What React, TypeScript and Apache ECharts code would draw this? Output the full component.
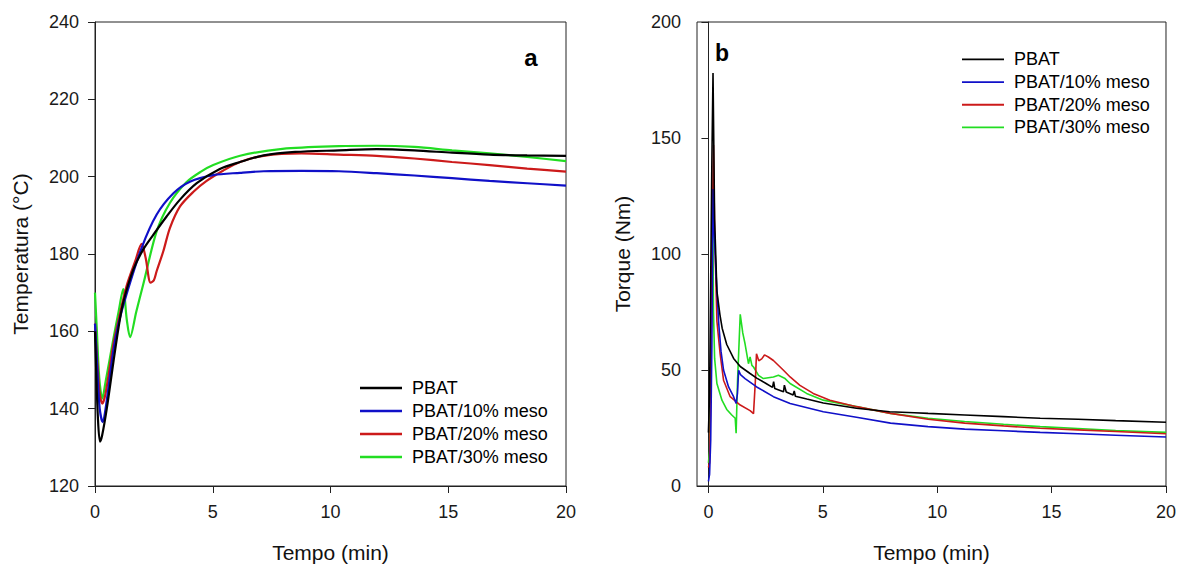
import React, { useEffect, useRef } from "react";
import * as echarts from "echarts";

// ---------- Data: (a) Temperatura (°C) vs Tempo (min) ----------
const seriesNames = ["PBAT", "PBAT/10% meso", "PBAT/20% meso", "PBAT/30% meso"];
const seriesColors = ["#000000", "#1010c8", "#cc1a1a", "#22dd22"];

const tempTimePBAT = [0, 0.05, 0.12, 0.21, 0.3, 0.5, 0.78, 1.0, 1.2, 1.63, 2.05, 2.48, 3.04, 3.6, 4.32, 5.3, 6.16, 7.16, 8.5, 10.36, 11.96, 13.56, 15.16, 16.75, 18.35, 20];
const tempPBAT = [160, 150, 138, 131.5, 133, 140, 152, 161, 167.5, 176, 181.2, 185, 189.7, 194, 198.3, 202, 203.8, 205.5, 206.4, 206.8, 207.1, 206.8, 206.2, 205.7, 205.5, 205.4];

const tempTime10 = [0, 0.1, 0.2, 0.33, 0.45, 0.78, 1.0, 1.34, 1.98, 2.62, 3.33, 4.03, 5.02, 6.16, 7.16, 8.76, 10.36, 11.96, 13.56, 15.16, 16.75, 18.35, 20];
const temp10 = [162, 150, 140, 136.5, 140, 155, 162, 169.6, 181.6, 190.2, 195.7, 198.7, 200.4, 201.0, 201.4, 201.5, 201.4, 200.9, 200.3, 199.6, 198.9, 198.3, 197.7];

const tempTime20 = [0, 0.1, 0.2, 0.31, 0.45, 0.78, 1.0, 1.34, 1.7, 1.98, 2.15, 2.36, 2.5, 2.62, 2.9, 3.18, 3.61, 4.18, 4.74, 5.45, 6.16, 7.16, 8.76, 10.36, 11.96, 13.56, 15.16, 16.75, 18.35, 20];
const temp20 = [162, 152, 144, 141.3, 144, 156.7, 163, 171.7, 178, 182.6, 179, 172.6, 173.2, 175.6, 180.7, 186.7, 192.3, 196.1, 198.9, 201.6, 203.8, 205.4, 206.0, 205.7, 205.4, 204.7, 203.8, 203.0, 202.1, 201.3];

const tempTime30 = [0, 0.08, 0.18, 0.31, 0.45, 0.78, 1.0, 1.2, 1.35, 1.49, 1.75, 2.05, 2.62, 3.18, 3.89, 4.5, 5.02, 6.16, 7.96, 10.36, 11.96, 13.56, 15.16, 16.75, 18.35, 20];
const temp30 = [170, 160, 148, 142.6, 147, 158, 165, 170.9, 163, 158.5, 165, 172.2, 185.9, 193.2, 198.6, 201.3, 203.0, 205.4, 207.2, 207.9, 208.0, 207.7, 206.8, 206.0, 205.1, 204.0];

// ---------- Data: (b) Torque (Nm) vs Tempo (min) ----------
const torqTimePBAT = [0, 0.05, 0.1, 0.15, 0.2, 0.27, 0.37, 0.5, 0.6, 0.8, 1.1, 1.39, 1.82, 2.11, 2.5, 2.8, 2.85, 2.9, 3.28, 3.32, 3.4, 3.7, 3.75, 3.8, 4.3, 5.02, 6.47, 7.92, 9.0, 9.6, 11.2, 12.9, 14.5, 16.15, 17.8, 20];
const torqPBAT = [23, 40, 90, 140, 178, 115, 84, 74, 68, 61, 55, 51.5, 48.5, 46.5, 44.3, 42.5, 45, 42, 40.6, 43.5, 40.5, 39.2, 41, 38.7, 37.5, 35.8, 33.5, 32, 31.6, 31.3, 30.6, 29.9, 29.2, 28.8, 28.2, 27.5];

const torqTime10 = [0, 0.05, 0.1, 0.15, 0.2, 0.25, 0.33, 0.45, 0.55, 0.66, 0.88, 1.1, 1.21, 1.27, 1.32, 1.4, 1.6, 2.11, 2.84, 3.57, 5.02, 6.47, 7.96, 9.6, 11.2, 12.9, 14.5, 16.15, 17.8, 20];
const torq10 = [2, 5, 20, 60, 128, 110, 92, 70, 58, 50, 42.7, 38.5, 35.6, 40, 49.9, 48, 46.3, 42.7, 38.5, 35.6, 32, 29.6, 27.1, 25.6, 24.5, 23.8, 23.1, 22.5, 21.9, 21.1];

const torqTime20 = [0, 0.05, 0.1, 0.15, 0.22, 0.27, 0.37, 0.51, 0.66, 0.95, 1.39, 1.82, 1.97, 2.05, 2.1, 2.2, 2.33, 2.45, 2.62, 2.84, 3.28, 3.57, 4.0, 4.58, 5.31, 6.47, 7.96, 9.6, 11.2, 12.9, 14.5, 16.15, 17.8, 20];
const torq20 = [8, 10, 40, 100, 147, 110, 71, 57, 45.6, 38.5, 34.9, 32.5, 31.2, 45, 57, 54, 54.8, 56.5, 55.6, 54.1, 49.9, 47, 43.4, 39.9, 37, 34.2, 31.3, 28.8, 27.1, 25.9, 24.9, 24.2, 23.5, 22.5];

const torqTime30 = [0, 0.05, 0.1, 0.15, 0.19, 0.22, 0.27, 0.37, 0.59, 0.8, 1.02, 1.17, 1.21, 1.27, 1.39, 1.5, 1.6, 1.75, 1.82, 1.9, 1.97, 2.19, 2.4, 2.84, 3.06, 3.35, 3.57, 4.29, 5.02, 6.47, 7.96, 9.6, 11.2, 12.9, 14.5, 16.15, 17.8, 20];
const torq30 = [10, 15, 50, 90, 120, 75, 55, 44.2, 37, 33, 30.6, 29.2, 22.8, 45, 74, 66, 61.3, 52.7, 55.6, 52, 51.3, 47.7, 46.3, 47, 47.7, 46.3, 44.2, 39.9, 37, 34.2, 31.3, 29.2, 27.8, 26.6, 25.6, 24.8, 23.9, 23.1];

const xTicks = [0, 5, 10, 15, 20];

const pair = (xs: number[], ys: number[]) => xs.map((x, i) => [x, ys[i]]);

const FONT = "'Liberation Sans', Arial, sans-serif";
const AX = "#222222";

export default function App() {
  const ref = useRef<HTMLDivElement>(null);

  useEffect(() => {
    if (!ref.current) return;
    const chart = echarts.init(ref.current, undefined, { renderer: "svg" });

    const tempData = [
      pair(tempTimePBAT, tempPBAT),
      pair(tempTime10, temp10),
      pair(tempTime20, temp20),
      pair(tempTime30, temp30),
    ];
    const torqData = [
      pair(torqTimePBAT, torqPBAT),
      pair(torqTime10, torq10),
      pair(torqTime20, torq20),
      pair(torqTime30, torq30),
    ];

    const axisCommon = {
      axisLine: { show: true, lineStyle: { color: AX, width: 1 } },
      axisTick: { show: true, inside: false, length: 7, lineStyle: { color: AX, width: 1 } },
      splitLine: { show: false },
      nameTextStyle: { fontFamily: FONT, fontSize: 21, color: "#111" },
    };
    const labelCommon = { fontFamily: FONT, fontSize: 18, color: "#1a1a1a" };

    const series: any[] = [];
    seriesNames.forEach((n, i) => {
      series.push({
        type: "line",
        name: n,
        xAxisIndex: 0,
        yAxisIndex: 0,
        data: tempData[i],
        symbol: "none",
        smooth: 0.3,
        lineStyle: { color: seriesColors[i], width: 2.2 },
        itemStyle: { color: seriesColors[i] },
        z: 10 - i,
      });
    });
    seriesNames.forEach((n, i) => {
      series.push({
        type: "line",
        name: n,
        xAxisIndex: 1,
        yAxisIndex: 1,
        data: torqData[i],
        symbol: "none",
        lineStyle: { color: seriesColors[i], width: 1.6 },
        itemStyle: { color: seriesColors[i] },
        z: 10 - i,
      });
    });

    chart.setOption({
      animation: false,
      backgroundColor: "#ffffff",
      textStyle: { fontFamily: FONT },
      grid: [
        { left: 95, top: 22, width: 471, height: 468, show: true, borderColor: AX, borderWidth: 1, backgroundColor: "transparent" },
        { left: 697, top: 22, width: 470, height: 468, show: true, borderColor: AX, borderWidth: 1, backgroundColor: "transparent" },
      ],
      xAxis: [
        {
          ...axisCommon,
          type: "value",
          gridIndex: 0,
          min: 0,
          max: 20,
          interval: 5,
          name: "Tempo (min)",
          nameLocation: "middle",
          nameGap: 56,
          axisLabel: { ...labelCommon, margin: 17 },
        },
        {
          ...axisCommon,
          type: "value",
          gridIndex: 1,
          min: -0.5,
          max: 20,
          name: "Tempo (min)",
          nameLocation: "middle",
          nameGap: 56,
          axisTick: { ...axisCommon.axisTick, customValues: xTicks },
          axisLabel: { ...labelCommon, margin: 17, customValues: xTicks },
        },
      ],
      yAxis: [
        {
          ...axisCommon,
          type: "value",
          gridIndex: 0,
          min: 120,
          max: 240,
          interval: 20,
          name: "Temperatura (°C)",
          nameLocation: "middle",
          nameGap: 64,
          axisLabel: { ...labelCommon, margin: 16 },
        },
        {
          ...axisCommon,
          type: "value",
          gridIndex: 1,
          min: 0,
          max: 200,
          interval: 50,
          name: "Torque (Nm)",
          nameLocation: "middle",
          nameGap: 64,
          axisLabel: { ...labelCommon, margin: 16 },
        },
      ],
      legend: [
        {
          orient: "vertical",
          left: 360,
          top: 376.5,
          padding: 0,
          itemGap: 0,
          itemWidth: 42,
          itemHeight: 2.6,
          icon: "rect",
          selectedMode: false,
          data: seriesNames,
          textStyle: { fontFamily: FONT, fontSize: 18, lineHeight: 23, color: "#000", padding: [0, 0, 0, 5] },
        },
        {
          orient: "vertical",
          left: 962,
          top: 48,
          padding: 0,
          itemGap: 0,
          itemWidth: 42,
          itemHeight: 1.8,
          icon: "rect",
          selectedMode: false,
          data: seriesNames,
          textStyle: { fontFamily: FONT, fontSize: 18, lineHeight: 22.7, color: "#000", padding: [0, 0, 0, 5] },
        },
      ],
      graphic: [
        {
          type: "text",
          x: 531,
          y: 57,
          style: { text: "a", fontFamily: FONT, fontSize: 24, fontWeight: "bold", fill: "#000", textAlign: "center", textVerticalAlign: "middle" },
        },
        {
          type: "text",
          x: 722,
          y: 53,
          style: { text: "b", fontFamily: FONT, fontSize: 23, fontWeight: "bold", fill: "#000", textAlign: "center", textVerticalAlign: "middle" },
        },
      ],
      series,
    });

    return () => chart.dispose();
  }, []);

  return (
    <div
      ref={ref}
      style={{ position: "absolute", left: 0, top: 0, width: 1179, height: 568, background: "#fff" }}
    />
  );
}
